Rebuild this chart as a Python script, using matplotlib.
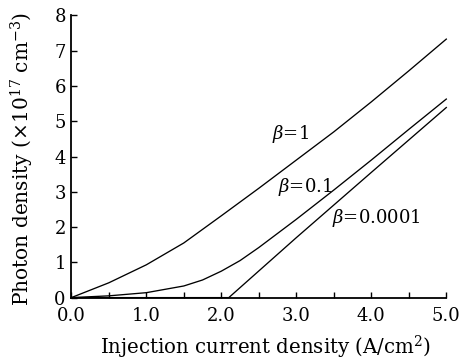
import matplotlib
matplotlib.use('Agg')
import matplotlib.pyplot as plt
from matplotlib.ticker import MultipleLocator

plt.rcParams['font.family'] = 'DejaVu Serif'
plt.rcParams['mathtext.fontset'] = 'dejavuserif'

# ── Data ────────────────────────────────────────────────────────────────────
x_b1 = [0.0, 0.5, 1.0, 1.5, 2.0, 2.5, 3.0, 3.5, 4.0, 4.5, 5.0]
y_b1 = [0.0, 0.42, 0.93, 1.55, 2.32, 3.1, 3.9, 4.7, 5.55, 6.43, 7.33]

x_b01 = [0.0, 0.5, 1.0, 1.5, 1.75, 2.0, 2.25, 2.5, 2.75, 3.0, 3.5, 4.0, 4.5, 5.0]
y_b01 = [0.0, 0.05, 0.14, 0.33, 0.5, 0.75, 1.05, 1.42, 1.82, 2.22, 3.05, 3.9, 4.77, 5.63]

x_b00001 = [0.0, 2.1, 3.0, 4.0, 5.0]
y_b00001 = [0.0, 0.0, 1.7, 3.55, 5.39]

x_ticks = [0, 1, 2, 3, 4, 5]
x_ticklabels = ['0.0', '1.0', '2.0', '3.0', '4.0', '5.0']
labels = [r'$\beta$=1', r'$\beta$=0.1', r'$\beta$=0.0001']

fig = plt.figure(figsize=(4.61, 3.6), dpi=100)
ax = fig.add_axes([0.1547, 0.1733, 0.8134, 0.7837])

for xs, ys in [(x_b1, y_b1), (x_b01, y_b01), (x_b00001, y_b00001)]:
    ax.plot(xs, ys, color='black', lw=0.95, clip_on=False)

# curve labels
ax.text(2.68, 4.63, labels[0], fontsize=13, ha='left', va='center')
ax.text(2.75, 3.13, labels[1], fontsize=13, ha='left', va='center')
ax.text(3.48, 2.25, labels[2], fontsize=13, ha='left', va='center')

ax.set_xlim(0, 5)
ax.set_ylim(0, 8)
ax.set_xticks(x_ticks)
ax.set_xticklabels(x_ticklabels)
ax.xaxis.set_minor_locator(MultipleLocator(0.5))
ax.yaxis.set_major_locator(MultipleLocator(1))

for s in ['top', 'right']:
    ax.spines[s].set_visible(False)
for s in ['left', 'bottom']:
    ax.spines[s].set_linewidth(1.3)

ax.tick_params(which='both', direction='in', length=4, width=1.0,
               labelsize=13, top=False, right=False)
ax.tick_params(axis='x', pad=7)
ax.tick_params(axis='y', pad=4)

ax.set_xlabel('Injection current density (A/cm$^{2}$)', fontsize=14.2)
ax.set_ylabel(r'Photon density ($\times$10$^{17}$ cm$^{-3}$)', fontsize=14.5)
ax.xaxis.set_label_coords(0.519, -0.13)
ax.yaxis.set_label_coords(-0.095, 0.49)

plt.savefig('out.png', dpi=100, facecolor='white')
